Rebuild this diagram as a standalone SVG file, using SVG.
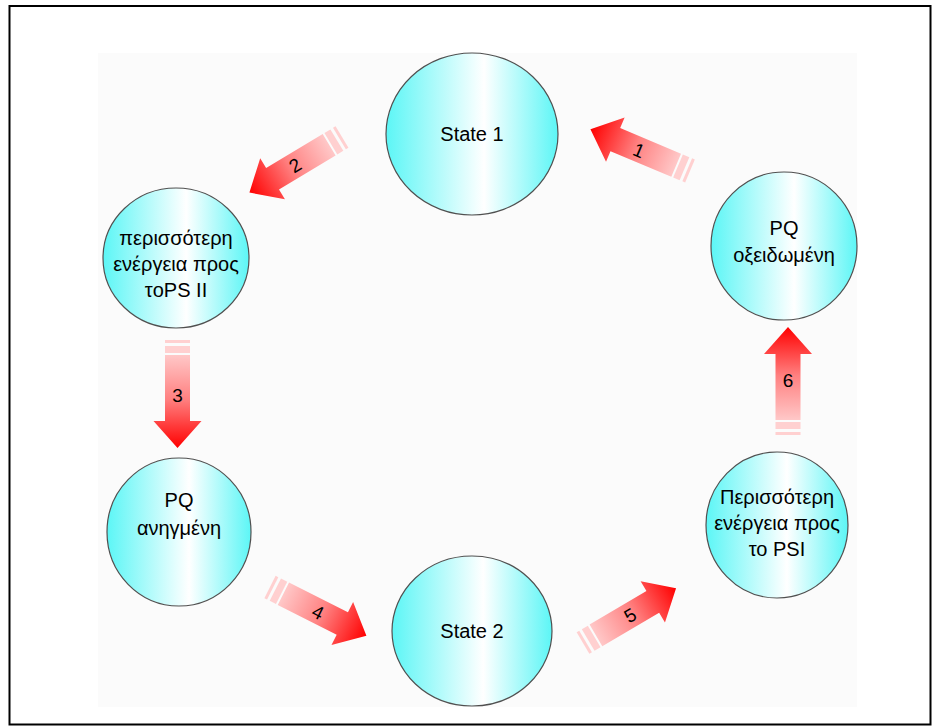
<svg xmlns="http://www.w3.org/2000/svg" width="937" height="726" viewBox="0 0 937 726">
<style>
.node{stroke:#505050;stroke-width:1.2;fill:url(#cyan)}
.lbl{font-family:"Liberation Sans",Arial,sans-serif;font-size:20px;fill:#000;text-anchor:middle}
.num{font-family:"Liberation Sans",Arial,sans-serif;font-size:19px;fill:#000;text-anchor:middle}
.arr{fill:url(#red)}
.stripe{fill:#ffd0d0}
</style>
<defs>
<linearGradient id="cyan" x1="0" y1="0" x2="1" y2="0">
<stop offset="0" stop-color="#5cf6f6"/>
<stop offset="0.57" stop-color="#ffffff"/>
<stop offset="1" stop-color="#5cf6f6"/>
</linearGradient>
<linearGradient id="red" gradientUnits="userSpaceOnUse" x1="0" y1="0" x2="108" y2="0">
<stop offset="0" stop-color="#ffe0e0"/>
<stop offset="0.55" stop-color="#ff8080"/>
<stop offset="1" stop-color="#ff0000"/>
</linearGradient>
<g id="arrow">
<rect class="stripe" x="0" y="-12.5" width="3" height="25"/>
<rect class="stripe" x="6" y="-12.5" width="7" height="25"/>
<path class="arr" d="M15,-12.5 H81 V-24 L108,0 L81,24 V12.5 H15 Z"/>
</g>
</defs>
<rect x="0" y="0" width="937" height="726" fill="#ffffff"/>
<rect x="98" y="53" width="759" height="654" fill="#fbfbfb"/>
<rect x="9.5" y="6" width="921" height="718.5" fill="none" stroke="#000" stroke-width="2"/>

<g id="connectors">
<g id="a1"><use href="#arrow" transform="translate(690,171) rotate(202.8)"/><text class="num" transform="translate(639,150) rotate(22.8)" y="7">1</text></g>
<g id="a2"><use href="#arrow" transform="translate(342,137) rotate(149)"/><text class="num" transform="translate(295,165) rotate(-31)" y="7">2</text></g>
<g id="a3"><use href="#arrow" transform="translate(177.5,340) rotate(90)"/><text class="num" x="177.5" y="402">3</text></g>
<g id="a4"><use href="#arrow" transform="translate(270,587) rotate(26.8)"/><text class="num" transform="translate(318,612) rotate(26.8)" y="7">4</text></g>
<g id="a5"><use href="#arrow" transform="translate(583,643) rotate(-30.5)"/><text class="num" transform="translate(630,615) rotate(-30.5)" y="7">5</text></g>
<g id="a6"><use href="#arrow" transform="translate(788,435) rotate(-90)"/><text class="num" x="788" y="387">6</text></g>
</g>

<g id="state1">
<ellipse class="node" cx="472" cy="134" rx="86" ry="81"/>
<text class="lbl" x="472" y="141">State 1</text>
</g>
<g id="ps2">
<ellipse class="node" cx="176" cy="258" rx="73" ry="70"/>
<text class="lbl" x="176" y="245">περισσότερη</text>
<text class="lbl" x="176" y="271">ενέργεια προς</text>
<text class="lbl" x="176" y="297">τoPS II</text>
</g>
<g id="pqox">
<ellipse class="node" cx="784" cy="246" rx="73" ry="74"/>
<text class="lbl" x="784" y="235">PQ</text>
<text class="lbl" x="784" y="262">οξειδωμένη</text>
</g>
<g id="pqred">
<ellipse class="node" cx="179" cy="532" rx="72" ry="74"/>
<text class="lbl" x="179" y="507">PQ</text>
<text class="lbl" x="179" y="535">ανηγμένη</text>
</g>
<g id="state2">
<ellipse class="node" cx="472" cy="631" rx="80" ry="75"/>
<text class="lbl" x="472" y="638">State 2</text>
</g>
<g id="psi">
<ellipse class="node" cx="777" cy="525" rx="71" ry="73"/>
<text class="lbl" x="777" y="504">Περισσότερη</text>
<text class="lbl" x="777" y="530">ενέργεια προς</text>
<text class="lbl" x="777" y="556">το PSI</text>
</g>
</svg>
